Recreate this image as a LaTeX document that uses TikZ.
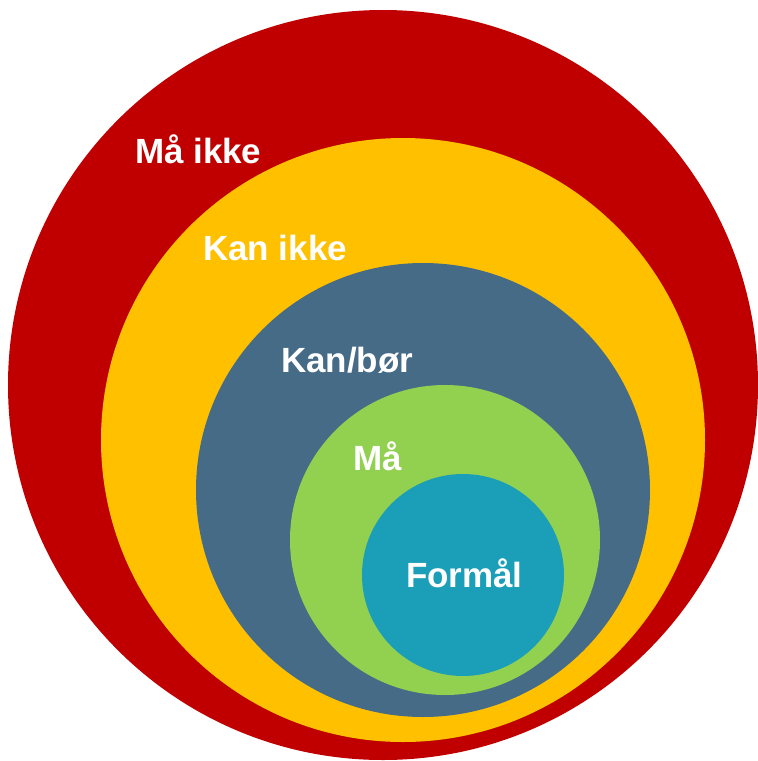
\documentclass[tikz,border=0pt]{standalone}
\usepackage{fontspec}
\setmainfont{Liberation Sans}
\definecolor{cred}{HTML}{C00000}
\definecolor{cyellow}{HTML}{FFC000}
\definecolor{cblue}{HTML}{466B87}
\definecolor{cgreen}{HTML}{92D050}
\definecolor{cteal}{HTML}{1B9EB8}
\begin{document}
\begin{tikzpicture}[x=1pt,y=-1pt,
  ring/.style={circle,inner sep=0pt,outer sep=0pt,draw=none,fill=#1},
  lbl/.style={anchor=base west,inner sep=0pt,outer sep=0pt,text=white,
    font=\fontsize{35}{40}\selectfont\bfseries}]
\useasboundingbox (0,0) rectangle (758,761);
\fill[white] (0,0) rectangle (758,761);
\begin{scope}
\clip (0,0) rectangle (758,761);
\node[ring=cred,minimum size=750pt] (red) at (383,385) {};
\node[ring=cyellow,minimum size=604pt] (yellow) at (403,440) {};
\node[ring=cblue,minimum size=454pt] (blue) at (423,490) {};
\node[ring=cgreen,minimum size=310pt] (green) at (445,540) {};
\node[ring=cteal,minimum size=202pt] (teal) at (463,575) {};
\end{scope}
\node[lbl] (t1) at (135,163) {Må ikke};
\node[lbl] (t2) at (203,260) {Kan ikke};
\node[lbl] (t3) at (281,372) {Kan/bør};
\node[lbl] (t4) at (353,470) {Må};
\node[lbl] (t5) at (406,587) {Formål};
\end{tikzpicture}
\end{document}
